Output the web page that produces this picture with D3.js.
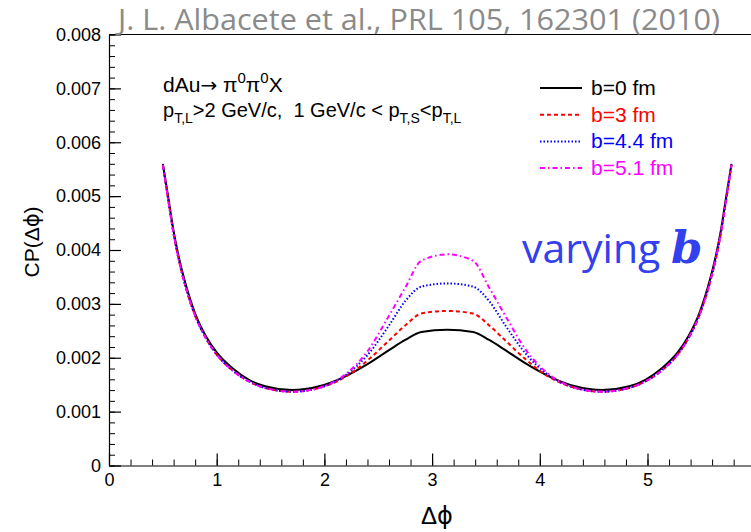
<!DOCTYPE html>
<html>
<head>
<meta charset="utf-8">
<script src="https://cdn.jsdelivr.net/npm/d3@7"></script>
<style>
  html, body { margin: 0; padding: 0; background: #fff; }
  svg { display: block; }
  text { font-family: "Liberation Sans", Arial, sans-serif; white-space: pre; }
</style>
</head>
<body>
<svg id="chart" width="751" height="532"></svg>
<script>
// Δφ sample points (rad)
const dphi = [0.50, 0.55, 0.60, 0.65, 0.70, 0.80, 0.90, 1.00, 1.15, 1.30, 1.45, 1.70, 1.95, 2.20,
              2.40, 2.60, 2.75, 2.90, 3.14, 3.38, 3.53, 3.68, 3.88, 4.08, 4.33, 4.58, 4.83, 4.98,
              5.13, 5.28, 5.38, 5.48, 5.58, 5.63, 5.68, 5.73, 5.78];

// CP(Δφ) in units of 1e-3, one array per impact parameter
const cpB0   = [5.60, 4.98, 4.35, 3.85, 3.45, 2.82, 2.40, 2.10, 1.80, 1.59, 1.47, 1.40, 1.47, 1.66,
                1.88, 2.14, 2.33, 2.48, 2.52, 2.48, 2.33, 2.14, 1.88, 1.66, 1.47, 1.40, 1.47, 1.59,
                1.80, 2.10, 2.40, 2.82, 3.45, 3.85, 4.35, 4.98, 5.60];
const cpB3   = [5.58, 4.93, 4.30, 3.80, 3.40, 2.78, 2.36, 2.06, 1.76, 1.56, 1.44, 1.37, 1.44, 1.65,
                1.95, 2.32, 2.60, 2.82, 2.87, 2.82, 2.60, 2.32, 1.95, 1.65, 1.44, 1.37, 1.44, 1.56,
                1.76, 2.06, 2.36, 2.78, 3.40, 3.80, 4.30, 4.93, 5.58];
const cpB44  = [5.58, 4.93, 4.30, 3.80, 3.40, 2.78, 2.36, 2.06, 1.76, 1.56, 1.44, 1.37, 1.44, 1.68,
                2.05, 2.60, 3.05, 3.32, 3.38, 3.32, 3.05, 2.60, 2.05, 1.68, 1.44, 1.37, 1.44, 1.56,
                1.76, 2.06, 2.36, 2.78, 3.40, 3.80, 4.30, 4.93, 5.58];
const cpB51  = [5.58, 4.93, 4.30, 3.80, 3.40, 2.78, 2.36, 2.06, 1.76, 1.56, 1.44, 1.37, 1.44, 1.70,
                2.12, 2.78, 3.30, 3.80, 3.92, 3.80, 3.30, 2.78, 2.12, 1.70, 1.44, 1.37, 1.44, 1.56,
                1.76, 2.06, 2.36, 2.78, 3.40, 3.80, 4.30, 4.93, 5.58];

const seriesNames  = ["b=0 fm", "b=3 fm", "b=4.4 fm", "b=5.1 fm"];
const seriesValues = [cpB0, cpB3, cpB44, cpB51];
const seriesColors = ["#000000", "#ff0000", "#0000ff", "#ff00ff"];
const seriesDash   = [null, "4,3", "1.5,2", "5,3,1.5,3"];

const xTicks = [0, 1, 2, 3, 4, 5];
const yTicks = [0, 0.001, 0.002, 0.003, 0.004, 0.005, 0.006, 0.007, 0.008];

const svg = d3.select("#chart");
const plotLeft = 109, plotTop = 34.5, plotBottom = 465.5;
const x = d3.scaleLinear().domain([0, 2 * Math.PI]).range([plotLeft, plotLeft + 107.7 * 2 * Math.PI]);
const y = d3.scaleLinear().domain([0, 0.008]).range([plotBottom, plotTop]);

// frame top edge
svg.append("line").attr("x1", plotLeft).attr("x2", x(2 * Math.PI)).attr("y1", plotTop).attr("y2", plotTop)
  .attr("stroke", "#000").attr("stroke-width", 1.2);

// minor ticks
svg.append("g").attr("transform", `translate(0,${plotBottom})`)
  .call(d3.axisBottom(x).tickValues(d3.range(0, 6.3, 0.2)).tickSize(-6).tickSizeOuter(0).tickFormat(""))
  .call(g => g.select(".domain").remove());
svg.append("g").attr("transform", `translate(${plotLeft},0)`)
  .call(d3.axisLeft(y).tickValues(d3.range(0, 0.00801, 0.0002)).tickSize(-6).tickSizeOuter(0).tickFormat(""))
  .call(g => g.select(".domain").remove());

// major ticks and labels
const xAxis = svg.append("g").attr("transform", `translate(0,${plotBottom})`)
  .call(d3.axisBottom(x).tickValues(xTicks).tickSize(-12).tickSizeOuter(0).tickPadding(8)
    .tickFormat(d3.format("d")));
const yAxis = svg.append("g").attr("transform", `translate(${plotLeft},0)`)
  .call(d3.axisLeft(y).tickValues(yTicks).tickSize(-12).tickSizeOuter(0).tickPadding(8)
    .tickFormat(d => d === 0 ? "0" : d3.format(".3f")(d)));
[xAxis, yAxis].forEach(g => {
  g.selectAll("line").attr("stroke", "#000").attr("stroke-width", 1.2);
  g.select(".domain").attr("stroke", "#000").attr("stroke-width", 1.2);
  g.selectAll("text").attr("fill", "#000").style("font-size", "18px")
    .style("font-family", "'Liberation Sans', Arial, sans-serif");
});

// axis titles (phi drawn in its stroked form, as in the Symbol face)
const xTitle = svg.append("text").attr("x", 437).attr("y", 524).attr("text-anchor", "middle")
  .style("font-size", "24px");
xTitle.append("tspan").text("Δ");
xTitle.append("tspan").style("font-family", "'DejaVu Sans', sans-serif").text("ϕ");
const yTitle = svg.append("text").attr("transform", "translate(39,242) rotate(-90)")
  .attr("text-anchor", "middle").style("font-size", "21px");
yTitle.append("tspan").text("CP(Δ");
yTitle.append("tspan").style("font-family", "'DejaVu Sans', sans-serif").text("ϕ");
yTitle.append("tspan").text(")");

// curves
const line = d3.line().x(d => x(d[0])).y(d => y(d[1] / 1000)).curve(d3.curveMonotoneX);
seriesValues.forEach((vals, i) => {
  const pts = dphi.map((d, k) => [d, vals[k]]);
  svg.append("path").datum(pts).attr("d", line).attr("fill", "none")
    .attr("stroke", seriesColors[i]).attr("stroke-width", 2)
    .attr("stroke-dasharray", seriesDash[i]);
});

// legend
seriesNames.forEach((name, i) => {
  const yy = 88 + i * 26.7;
  svg.append("line").attr("x1", 540).attr("x2", 582).attr("y1", yy).attr("y2", yy)
    .attr("stroke", seriesColors[i]).attr("stroke-width", 2).attr("stroke-dasharray", seriesDash[i]);
  svg.append("text").attr("x", 591).attr("y", yy + 7).style("font-size", "21px")
    .attr("fill", seriesColors[i]).text(name);
});

// process annotation
const t1 = svg.append("text").attr("x", 163).attr("y", 92).style("font-size", "21px");
t1.append("tspan").text("dAu");
t1.append("tspan").style("font-family", "'DejaVu Sans', sans-serif").style("font-size", "20px").text("→");
t1.append("tspan").text(" π");
t1.append("tspan").attr("dy", -9).style("font-size", "15px").text("0");
t1.append("tspan").attr("dy", 9).text("π");
t1.append("tspan").attr("dy", -9).style("font-size", "15px").text("0");
t1.append("tspan").attr("dy", 9).text("X");

const t2 = svg.append("text").attr("x", 163).attr("y", 117).style("font-size", "20px");
t2.append("tspan").text("p");
t2.append("tspan").attr("dy", 6).style("font-size", "14px").text("T,L");
t2.append("tspan").attr("dy", -6).text(">2 GeV/c,  1 GeV/c < p");
t2.append("tspan").attr("dy", 6).style("font-size", "14px").text("T,S");
t2.append("tspan").attr("dy", -6).text("<p");
t2.append("tspan").attr("dy", 6).style("font-size", "14px").text("T,L");

// citation
svg.append("text").attr("x", 118).attr("y", 30).attr("fill", "#8a8a8a")
  .style("font-family", "'Open Sans', sans-serif").style("font-size", "29px")
  .attr("textLength", 602).attr("lengthAdjust", "spacingAndGlyphs")
  .text("J. L. Albacete et al., PRL 105, 162301 (2010)");

// note
const note = svg.append("text").attr("x", 522).attr("y", 263).attr("fill", "#3340ee")
  .style("font-family", "'Open Sans', sans-serif").style("font-size", "41px");
note.append("tspan").text("varying ");
note.append("tspan").style("font-family", "'DejaVu Serif', serif").style("font-weight", "bold")
  .style("font-style", "italic").style("font-size", "45px").text("b");
</script>
</body>
</html>
